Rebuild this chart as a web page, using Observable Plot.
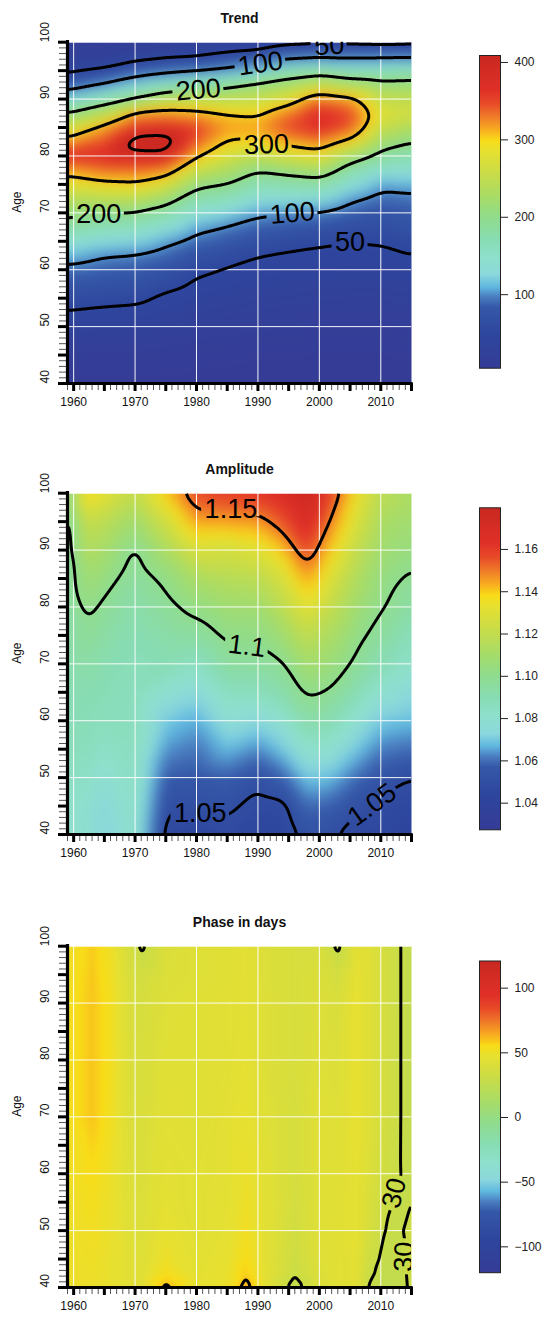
<!DOCTYPE html>
<html>
<head>
<meta charset="utf-8">
<script src="https://cdn.jsdelivr.net/npm/d3@7"></script>
<script src="https://cdn.jsdelivr.net/npm/@observablehq/plot@0.6"></script>
<style>
  html, body { margin: 0; padding: 0; background: #fff; }
  #chart { position: relative; width: 550px; height: 1317px; overflow: hidden; background: #fff; }
  .panel { position: absolute; left: 0; width: 550px; height: 451px; }
  .panel svg { position: absolute; top: 0; }
</style>
</head>
<body>
<div id="chart"></div>
<script>
// ---------- Trend (deaths per year by age and calendar year) ----------
const trendYears = [1959, 1965, 1970, 1975, 1980, 1985, 1990, 1995, 2000, 2005, 2010, 2015];
const trendAges = [40, 45, 50, 55, 60, 62.5, 65, 67.5, 70, 72.5, 75, 77.5, 80, 82.5, 85, 87.5, 90, 92.5, 95, 97.5, 100];
// one row per age, one column per year
const trendValues = [
  [5, 5, 5, 5, 5, 5, 5, 5, 5, 5, 5, 5],
  [15, 14, 14, 12, 10, 9, 8, 8, 7, 7, 7, 8],
  [35, 32, 30, 27, 22, 20, 18, 17, 15, 14, 14, 16],
  [62, 58, 56, 44, 36, 33, 30, 28, 26, 25, 25, 28],
  [92, 86, 83, 73, 55, 47, 42, 40, 38, 37, 37, 40],
  [114, 100, 97, 88, 72, 62, 50, 46, 44, 43, 44, 50],
  [147, 133, 127, 107, 89, 80, 68, 60, 54, 50, 52, 58],
  [180, 167, 162, 143, 110, 97, 86, 80, 75, 68, 65, 72],
  [213, 200, 197, 179, 143, 129, 106, 100, 97, 85, 77, 83],
  [244, 245, 246, 220, 175, 164, 138, 137, 136, 106, 90, 93],
  [276, 291, 296, 271, 211, 200, 170, 174, 179, 141, 108, 112],
  [315, 333, 333, 322, 258, 233, 202, 215, 228, 177, 147, 142],
  [375, 374, 385, 388, 305, 267, 251, 268, 281, 224, 186, 171],
  [316, 345, 430, 430, 340, 298, 297, 314, 328, 292, 221, 201],
  [259, 317, 365, 372, 355, 322, 320, 351, 372, 343, 255, 233],
  [202, 245, 311, 319, 312, 301, 295, 330, 378, 350, 280, 266],
  [135, 168, 200, 242, 250, 247, 253, 276, 328, 316, 251, 246],
  [77, 103, 132, 155, 175, 187, 212, 228, 259, 232, 215, 217],
  [42, 52, 73, 85, 93, 106, 125, 162, 171, 155, 159, 167],
  [25, 30, 38, 45, 48, 59, 65, 84, 93, 92, 93, 93],
  [12, 14, 16, 18, 20, 25, 28, 33, 33, 30, 28, 30]
];
const trendLevels = [50, 100, 200, 300, 400];
const trendRange = [5, 409];
const trendKeyTicks = [100, 200, 300, 400];
const trendLabelSpots = [
  {level: 50, year: 2001.6, age: 99.4, angle: -3},
  {level: 100, year: 1990.4, age: 96.2, angle: -8},
  {level: 200, year: 1980.3, age: 91.6, angle: -5},
  {level: 300, year: 1991.4, age: 82.0, angle: -2},
  {level: 200, year: 1964.1, age: 69.8, angle: 0},
  {level: 100, year: 1995.6, age: 69.9, angle: -5},
  {level: 50, year: 2005.0, age: 64.9, angle: 0}
];

// ---------- Amplitude ----------
const ampYears = [1959, 1962, 1965, 1970, 1975, 1980, 1985, 1990, 1994, 1998, 2002, 2006, 2010, 2015];
const ampAges = [40, 45, 50, 55, 60, 65, 70, 75, 80, 85, 90, 95, 100];
const ampValues = [
  [1.080, 1.080, 1.072, 1.082, 1.046, 1.044, 1.047, 1.044, 1.044, 1.053, 1.051, 1.046, 1.045, 1.042],
  [1.082, 1.080, 1.074, 1.083, 1.051, 1.051, 1.052, 1.047, 1.047, 1.060, 1.058, 1.052, 1.048, 1.045],
  [1.085, 1.084, 1.078, 1.085, 1.057, 1.056, 1.058, 1.052, 1.058, 1.070, 1.068, 1.060, 1.054, 1.050],
  [1.087, 1.087, 1.083, 1.086, 1.064, 1.061, 1.068, 1.063, 1.070, 1.082, 1.080, 1.070, 1.062, 1.060],
  [1.089, 1.089, 1.087, 1.087, 1.070, 1.066, 1.078, 1.074, 1.080, 1.093, 1.090, 1.080, 1.070, 1.068],
  [1.090, 1.091, 1.089, 1.087, 1.080, 1.074, 1.086, 1.087, 1.092, 1.102, 1.099, 1.090, 1.080, 1.074],
  [1.091, 1.094, 1.091, 1.088, 1.090, 1.085, 1.096, 1.096, 1.099, 1.110, 1.106, 1.098, 1.090, 1.082],
  [1.092, 1.098, 1.094, 1.090, 1.093, 1.095, 1.102, 1.102, 1.108, 1.120, 1.112, 1.103, 1.096, 1.088],
  [1.093, 1.103, 1.098, 1.092, 1.097, 1.103, 1.108, 1.108, 1.118, 1.132, 1.120, 1.108, 1.101, 1.094],
  [1.094, 1.108, 1.104, 1.095, 1.102, 1.112, 1.116, 1.118, 1.127, 1.145, 1.128, 1.114, 1.104, 1.098],
  [1.094, 1.115, 1.110, 1.098, 1.112, 1.128, 1.125, 1.130, 1.140, 1.158, 1.138, 1.120, 1.108, 1.104],
  [1.094, 1.122, 1.118, 1.108, 1.125, 1.145, 1.145, 1.146, 1.155, 1.170, 1.148, 1.128, 1.112, 1.108],
  [1.095, 1.140, 1.132, 1.120, 1.140, 1.158, 1.160, 1.162, 1.168, 1.178, 1.158, 1.135, 1.118, 1.112]
];
const ampLevels = [1.05, 1.1, 1.15];
const ampRange = [1.0274, 1.1797];
const ampKeyTicks = [1.04, 1.06, 1.08, 1.10, 1.12, 1.14, 1.16];
const ampLabelSpots = [
  {level: 1.15, year: 1985.6, age: 97.2, angle: 0},
  {level: 1.1, year: 1988.2, age: 73.1, angle: 7},
  {level: 1.05, year: 1980.6, age: 43.8, angle: 0},
  {level: 1.05, year: 2008.6, age: 45.2, angle: -36}
];

// ---------- Phase in days ----------
const phaseYears = [1959, 1963, 1966, 1969, 1971, 1975, 1980, 1985, 1988, 1991, 1996, 2000, 2003, 2006, 2008, 2011, 2013, 2015];
const phaseAges = [40, 42.5, 45, 50, 60, 70, 80, 90, 95, 100];
const phaseValues = [
  [50, 50, 48, 44, 43, 62, 46, 50, 64, 46, 26, 40, 44, 44, 29.5, 25, 26, 32],
  [50, 50, 48, 44, 43, 54, 45, 48, 58, 46, 31, 41, 44, 45, 32, 26, 26.5, 32.5],
  [50, 51, 48, 44, 42, 50, 45, 47, 55, 45, 33, 42, 44, 45, 34, 27, 27, 33],
  [50, 52, 49, 43, 41, 47, 44, 46, 52, 45, 35, 43, 44, 46, 38, 29.3, 28.5, 33],
  [51, 55, 50, 42, 40, 45, 44, 45, 49, 44, 37, 43, 43, 46, 41, 33, 30.5, 27],
  [52, 59.5, 52, 41, 39, 44, 43, 45, 47, 43, 37, 43, 42, 47, 43, 35, 30.6, 26],
  [52, 59.5, 53, 41, 38, 43, 43, 44, 46, 42, 38, 42, 41, 47, 43, 35, 30.6, 26],
  [52, 59.5, 53, 40, 37, 42, 43, 44, 45, 42, 38, 41, 39, 47, 43, 35, 30.6, 26],
  [51, 59, 52, 39, 35, 41, 42, 43, 45, 41, 38, 40, 36, 46, 43, 35, 30.6, 26],
  [51, 58, 51, 37, 28.5, 40, 42, 43, 45, 41, 38, 38, 28, 45, 43, 35, 30.6, 26]
];
const phaseLevels = [30, 60];
const phaseRange = [-120, 121];
const phaseKeyTicks = [-100, -50, 0, 50, 100];
const phaseLabelSpots = [
  {level: 30, year: 2012.2, age: 56.6, angle: -76},
  {level: 30, year: 2013.8, age: 45.4, angle: -88}
];

// ---------- shared axis ticks ----------
const yearTicks = d3.range(1959, 2016);
const yearMajor = d3.range(1960, 2016, 5);
const yearLabels = [1960, 1970, 1980, 1990, 2000, 2010];
const ageTicks = d3.range(40, 101);
const ageMajor = d3.range(40, 101, 5);
const ageLabels = [40, 50, 60, 70, 80, 90, 100];
const yearGrid = [1960, 1970, 1980, 1990, 2000, 2010];
const ageGrid = [50, 60, 70, 80, 90, 100];

// colour ramp: positions along each key's range and the colours there
const rampStops = [0, 0.11, 0.195, 0.227, 0.26, 0.30, 0.355, 0.41, 0.483, 0.547, 0.62, 0.696, 0.728, 0.76, 0.80, 0.845, 0.89, 1];
const rampColors = ["#353c96", "#2e469e", "#3558a8", "#4a7bbf", "#60b8e0", "#8cd8dc", "#8ee0cc", "#88dcb4", "#90dc8c",
  "#a8dc68", "#c8dc48", "#e8e030", "#f8dc18", "#f8b020", "#f08028", "#e84c28", "#e03028", "#c82820"];

const fontFamily = '"Liberation Sans", Arial, Helvetica, sans-serif';
const W = 430, H = 431;
const M = {left: 67, right: 19, top: 41.7, bottom: 48};

function colorScale([lo, hi]) {
  return {type: "linear", domain: rampStops.map(t => lo + t * (hi - lo)), range: rampColors, clamp: true};
}

function tidy(years, ages, rows) {
  return rows.flatMap((row, i) => row.map((value, j) => ({year: years[j], age: ages[i], value})));
}

// Contour rings are closed polygons: drop the pieces that run along the
// border of the plotting area so only the iso-lines themselves are stroked.
function dropBorderRuns(svg) {
  const g = svg.querySelector('g[aria-label="contour"]');
  if (!g) return;
  const xmin = M.left, xmax = W - M.right, ymin = M.top, ymax = H - M.bottom;
  const near = (a, b) => Math.abs(a - b) < 1.1;
  const border = (a, b) =>
    (near(a[0], xmin) && near(b[0], xmin)) || (near(a[0], xmax) && near(b[0], xmax)) ||
    (near(a[1], ymin) && near(b[1], ymin)) || (near(a[1], ymax) && near(b[1], ymax));
  for (const p of g.querySelectorAll("path")) {
    const rings = [];
    let ring = null;
    const re = /([MLZ])([^MLZ]*)/gi;
    let m;
    const d = p.getAttribute("d") || "";
    while ((m = re.exec(d))) {
      const cmd = m[1].toUpperCase();
      if (cmd === "Z") { if (ring) rings.push(ring); ring = null; continue; }
      const nums = (m[2].match(/-?\d*\.?\d+(?:e[-+]?\d+)?/gi) || []).map(Number);
      if (cmd === "M") { if (ring) rings.push(ring); ring = []; }
      for (let i = 0; i + 1 < nums.length; i += 2) ring.push([nums[i], nums[i + 1]]);
    }
    if (ring) rings.push(ring);
    let out = "";
    for (const r of rings) {
      const n = r.length;
      if (n < 2) continue;
      let start = -1;
      for (let i = 0; i < n; i++) if (border(r[i], r[(i + 1) % n])) { start = i; break; }
      if (start < 0) {
        out += "M" + r.map(q => q.join(",")).join("L") + "Z";
        continue;
      }
      let pen = false;
      for (let s = 1; s <= n; s++) {
        const i = (start + s) % n, j = (i + 1) % n;
        if (border(r[i], r[j])) { pen = false; continue; }
        if (!pen) { out += "M" + r[i].join(","); pen = true; }
        out += "L" + r[j].join(",");
      }
    }
    p.setAttribute("d", out);
  }
}

// break each labelled contour where its label sits
function cutLabelGaps(svg, id) {
  const ns = "http://www.w3.org/2000/svg";
  const lines = svg.querySelector('g[aria-label="contour"]');
  const labels = svg.querySelector('g[aria-description="contour labels"]');
  if (!lines || !labels) return;
  const mask = document.createElementNS(ns, "mask");
  mask.setAttribute("id", id);
  mask.setAttribute("maskUnits", "userSpaceOnUse");
  mask.setAttribute("x", 0); mask.setAttribute("y", 0);
  mask.setAttribute("width", W); mask.setAttribute("height", H);
  const keep = document.createElementNS(ns, "rect");
  keep.setAttribute("width", W); keep.setAttribute("height", H);
  keep.setAttribute("fill", "white");
  mask.append(keep);
  const holes = document.createElementNS(ns, "g");
  const gt = labels.getAttribute("transform");
  if (gt) holes.setAttribute("transform", gt);
  for (const t of labels.querySelectorAll("text")) {
    const b = t.getBBox();
    const cy = b.y + b.height / 2;
    const r = document.createElementNS(ns, "rect");
    r.setAttribute("x", b.x - 3);
    r.setAttribute("width", b.width + 6);
    r.setAttribute("y", cy - 8);
    r.setAttribute("height", 16);
    r.setAttribute("fill", "black");
    const tt = t.getAttribute("transform");
    if (tt) r.setAttribute("transform", tt);
    holes.append(r);
  }
  mask.append(holes);
  const defs = document.createElementNS(ns, "defs");
  defs.append(mask);
  svg.insertBefore(defs, svg.firstChild);
  const wrap = document.createElementNS(ns, "g");
  wrap.setAttribute("mask", `url(#${id})`);
  lines.parentNode.insertBefore(wrap, lines);
  wrap.append(lines);
}

function drawPanel(cfg) {
  const chart = document.getElementById("chart");
  const holder = document.createElement("div");
  holder.className = "panel";
  holder.style.top = cfg.top + "px";
  chart.append(holder);

  const cells = tidy(cfg.years, cfg.ages, cfg.values);
  const color = colorScale(cfg.range);
  const [x0, x1] = d3.extent(yearTicks);
  const [a0, a1] = d3.extent(ageTicks);

  const main = Plot.plot({
    width: W, height: H,
    marginLeft: M.left, marginRight: M.right, marginTop: M.top, marginBottom: M.bottom,
    x: {domain: [x0, x1], axis: null},
    y: {domain: [a0, a1], axis: null},
    color,
    style: {fontFamily, fontSize: "12px", color: "#111", background: "transparent"},
    marks: [
      Plot.raster(cells, {x: "year", y: "age", fill: "value", interpolate: "barycentric", pixelSize: 1, blur: cfg.smooth}),
      Plot.ruleX(yearGrid, {stroke: "white", strokeWidth: 1, strokeOpacity: 0.95}),
      Plot.ruleY(ageGrid, {stroke: "white", strokeWidth: 1, strokeOpacity: 0.95}),
      Plot.contour(cells, {
        x: "year", y: "age", value: "value", thresholds: cfg.levels,
        interpolate: "barycentric", pixelSize: 1, blur: cfg.smooth,
        fill: "none", stroke: "black", strokeWidth: 3, strokeLinejoin: "round", strokeLinecap: "butt", clip: true
      }),
      Plot.text(cfg.spots, {
        x: "year", y: "age", text: d => String(d.level), rotate: "angle",
        fontSize: 27, fill: "black", clip: true, ariaDescription: "contour labels"
      }),
      // axes
      Plot.axisY(ageTicks, {anchor: "left", tickSize: 8, stroke: "#555", strokeWidth: 1, fill: "none", label: null}),
      Plot.axisY(ageMajor, {anchor: "left", tickSize: 9, stroke: "black", strokeWidth: 3, fill: "none", label: null}),
      Plot.axisX(yearTicks, {anchor: "bottom", tickSize: 7, stroke: "#555", strokeWidth: 1, fill: "none", label: null}),
      Plot.axisX(yearMajor, {anchor: "bottom", tickSize: 8, stroke: "black", strokeWidth: 3, fill: "none", label: null}),
      Plot.ruleX([x0], {y1: a0, y2: a1, stroke: "black", strokeWidth: 3.2, strokeLinecap: "square"}),
      Plot.ruleY([a0], {x1: x0, x2: x1, stroke: "black", strokeWidth: 3.2, strokeLinecap: "square"}),
      Plot.text(yearLabels, {x: d => d, text: d => String(d), frameAnchor: "bottom", dy: 22, fontSize: 12, fill: "#111"}),
      Plot.text(ageLabels, {y: d => d, text: d => String(d), frameAnchor: "left", dx: -22, rotate: -90, fontSize: 12, fill: "#111"}),
      Plot.text(["Age"], {text: d => d, frameAnchor: "left", dx: -50, rotate: -90, fontSize: 12, fill: "#111"}),
      Plot.text([cfg.title], {text: d => d, frameAnchor: "top", dy: -29.5, fontSize: 14, fontWeight: "bold", fill: "#111"})
    ]
  });
  main.style.left = "0px";
  holder.append(main);
  dropBorderRuns(main);
  cutLabelGaps(main, cfg.id);

  const [lo, hi] = cfg.range;
  const key = Plot.plot({
    width: 120, height: H,
    marginLeft: 49, marginRight: 50, marginTop: cfg.barTop, marginBottom: H - cfg.barBottom,
    x: {domain: [0, 1], axis: null},
    y: {domain: [lo, hi], axis: null},
    color,
    style: {fontFamily, fontSize: "12px", color: "#222", background: "transparent"},
    marks: [
      Plot.raster({fill: (x, y) => y, x1: 0, x2: 1, y1: lo, y2: hi, pixelSize: 1}),
      Plot.frame({stroke: "#222", strokeWidth: 1}),
      Plot.axisY(cfg.keyTicks, {anchor: "right", tickSize: 7, tickPadding: 7, tickFormat: cfg.keyFormat,
        fontSize: 12, stroke: "#222", fill: "#222", label: null})
    ]
  });
  key.style.left = "430px";
  holder.append(key);
}

drawPanel({
  id: "gap-trend", top: 0, title: "Trend", smooth: 6,
  years: trendYears, ages: trendAges, values: trendValues,
  levels: trendLevels, range: trendRange, spots: trendLabelSpots,
  keyTicks: trendKeyTicks, keyFormat: d3.format("d"), barTop: 55, barBottom: 367.7
});
drawPanel({
  id: "gap-amp", top: 451, title: "Amplitude", smooth: 6,
  years: ampYears, ages: ampAges, values: ampValues,
  levels: ampLevels, range: ampRange, spots: ampLabelSpots,
  keyTicks: ampKeyTicks, keyFormat: d3.format(".2f"), barTop: 56.3, barBottom: 378.3
});
drawPanel({
  id: "gap-phase", top: 903.5, title: "Phase in days", smooth: 1,
  years: phaseYears, ages: phaseAges, values: phaseValues,
  levels: phaseLevels, range: phaseRange, spots: phaseLabelSpots,
  keyTicks: phaseKeyTicks, keyFormat: d3.format("d"), barTop: 56.5, barBottom: 368.2
});
</script>
</body>
</html>
